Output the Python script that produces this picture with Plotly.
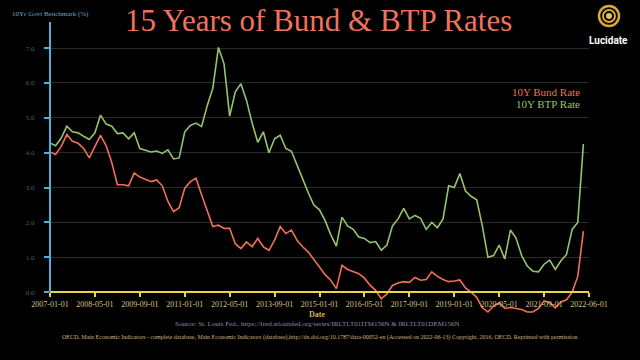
import plotly.graph_objects as go

# ---------------- data ----------------
tick_labels = ["2007-01-01", "2008-05-01", "2009-09-01", "2011-01-01", "2012-05-01",
               "2013-09-01", "2015-01-01", "2016-05-01", "2017-09-01", "2019-01-01",
               "2020-05-01", "2021-09-01", "2022-06-01"]

# sample positions along the time axis (period index, every 2 steps)
period_index = list(range(0, 192, 2))

bund_rate = [4.02, 3.95, 4.18, 4.52, 4.33, 4.27, 4.12, 3.85, 4.18, 4.50,
             4.20, 3.72, 3.08, 3.08, 3.05, 3.42, 3.30, 3.24, 3.17, 3.22,
             3.05, 2.60, 2.31, 2.42, 2.98, 3.17, 3.27, 2.79, 2.31, 1.88,
             1.92, 1.83, 1.83, 1.39, 1.25, 1.44, 1.30, 1.54, 1.30, 1.20,
             1.49, 1.88, 1.68, 1.78, 1.49, 1.30, 1.15, 0.95, 0.72, 0.50,
             0.34, 0.10, 0.77, 0.65, 0.58, 0.53, 0.40, 0.20, 0.05, -0.19,
             -0.05, 0.19, 0.26, 0.30, 0.28, 0.42, 0.34, 0.36, 0.58, 0.45,
             0.36, 0.30, 0.32, 0.35, 0.12, 0.00, -0.15, -0.45, -0.57, -0.40,
             -0.30, -0.47, -0.44, -0.47, -0.50, -0.57, -0.57, -0.47, -0.25, -0.30,
             -0.45, -0.28, -0.22, 0.00, 0.45, 1.75]

btp_rate = [4.28, 4.20, 4.42, 4.76, 4.60, 4.57, 4.47, 4.38, 4.57, 5.08,
            4.82, 4.76, 4.55, 4.57, 4.40, 4.57, 4.12, 4.08, 4.02, 4.05,
            3.98, 4.08, 3.82, 3.85, 4.60, 4.78, 4.85, 4.75, 5.35, 5.85,
            7.02, 6.55, 5.05, 5.75, 5.98, 5.50, 4.85, 4.30, 4.60, 4.00,
            4.40, 4.50, 4.12, 4.04, 3.62, 3.25, 2.85, 2.50, 2.36, 2.05,
            1.65, 1.32, 2.15, 1.90, 1.80, 1.58, 1.54, 1.42, 1.45, 1.20,
            1.35, 1.90, 2.10, 2.40, 2.10, 2.20, 2.12, 1.80, 2.00, 1.85,
            2.10, 3.05, 3.00, 3.40, 2.90, 2.75, 2.65, 1.90, 1.00, 1.05,
            1.35, 0.95, 1.78, 1.55, 1.05, 0.75, 0.60, 0.58, 0.80, 0.92,
            0.65, 0.90, 1.08, 1.80, 2.00, 4.25]

y_ticks = [0, 1, 2, 3, 4, 5, 6, 7]

# ---------------- layout helpers ----------------
W, H = 640, 360
L, R, T, B = 50, 51, 22, 40
Y_MIN, Y_MAX = -0.8, 7.75
X_MAX = 192


def px_x(x):
    return (x - L) / (W - L - R)


def px_y(y):
    return (H - B - y) / (H - T - B)


RED = "#f26f55"
GREEN = "#95c46f"
BLUE = "#4fb0e0"
YELLOW = "#e6d44a"
SERIF = "Liberation Serif, DejaVu Serif, serif"

fig = go.Figure()
fig.add_trace(go.Scatter(x=period_index, y=btp_rate, mode="lines",
                         line=dict(color=GREEN, width=1.6), name="10Y BTP Rate"))
fig.add_trace(go.Scatter(x=period_index, y=bund_rate, mode="lines",
                         line=dict(color=RED, width=1.6), name="10Y Bund Rate"))

tick_step = X_MAX // (len(tick_labels) - 1)
fig.update_xaxes(range=[0, X_MAX],
                 tickvals=[i * tick_step for i in range(len(tick_labels))],
                 ticktext=tick_labels,
                 anchor="free", position=(0 - Y_MIN) / (Y_MAX - Y_MIN),
                 showline=True, linecolor=YELLOW, linewidth=2,
                 ticks="outside", ticklen=4, tickwidth=2, tickcolor=YELLOW,
                 tickfont=dict(family=SERIF, size=8, color="#d6c385"),
                 showgrid=False, zeroline=False)
fig.update_yaxes(range=[Y_MIN, Y_MAX], tickvals=y_ticks,
                 ticktext=[f"{v:.1f}" for v in y_ticks],
                 ticks="outside", ticklen=5, tickwidth=2, tickcolor=BLUE,
                 ticklabelstandoff=8,
                 tickfont=dict(family=SERIF, size=7, color="#3f6080"),
                 showgrid=True, gridcolor="#2a2a2a", gridwidth=1,
                 showline=False, zeroline=False)

# y-axis spine from 0 upward
fig.add_shape(type="line", xref="paper", yref="y", x0=0, x1=0, y0=0, y1=Y_MAX,
              line=dict(color=BLUE, width=2))

# logo
for r, w in [(10, 2.5), (6, 2)]:
    fig.add_shape(type="circle", xref="paper", yref="paper",
                  x0=px_x(609 - r), x1=px_x(609 + r), y0=px_y(16 + r), y1=px_y(16 - r),
                  line=dict(color="#d9a83a", width=w))
fig.add_shape(type="circle", xref="paper", yref="paper",
              x0=px_x(606), x1=px_x(612), y0=px_y(19), y1=px_y(13),
              fillcolor="#e8bf55", line=dict(width=0))

ann = [
    dict(text="15 Years of Bund & BTP Rates", x=px_x(318), y=px_y(21),
         font=dict(family=SERIF, size=31, color="#ee735d"), xanchor="center"),
    dict(text="<b>Lucidate</b>", x=px_x(608), y=px_y(40),
         font=dict(family="Roboto, Liberation Sans, sans-serif", size=10, color="white"),
         xanchor="center"),
    dict(text="10Yr Govt Benchmark (%)", x=px_x(10), y=px_y(14),
         font=dict(family=SERIF, size=7, color="#6aa8cc"), xanchor="left"),
    dict(text="10Y Bund Rate", x=px_x(582), y=px_y(92),
         font=dict(family=SERIF, size=11, color=RED), xanchor="right"),
    dict(text="10Y BTP Rate", x=px_x(582), y=px_y(104),
         font=dict(family=SERIF, size=11, color=GREEN), xanchor="right"),
    dict(text="<b>Date</b>", x=px_x(317), y=px_y(314),
         font=dict(family=SERIF, size=8, color="#d4b840"), xanchor="center"),
    dict(text="Source: St. Louis Fed.. https://fred.stlouisfed.org/series/IRLTLT01ITM156N & IRLTLT01DEM156N",
         x=px_x(317), y=px_y(324),
         font=dict(family=SERIF, size=7, color="#8c8cae"), xanchor="center"),
    dict(text="OECD, Main Economic Indicators - complete database, Main Economic Indicators (database),"
              "http://dx.doi.org/10.1787/data-00052-en (Accessed on 2022-06-13) Copyright, 2016, OECD. "
              "Reprinted with permission",
         x=px_x(319), y=px_y(337),
         font=dict(family=SERIF, size=6, color="#cbb67a"), xanchor="center"),
]
for a in ann:
    a.update(xref="paper", yref="paper", showarrow=False, yanchor="middle")
    fig.add_annotation(**a)

fig.update_layout(width=W, height=H, margin=dict(l=L, r=R, t=T, b=B),
                  paper_bgcolor="black", plot_bgcolor="black", showlegend=False)

fig.write_html("out.html", config={"displayModeBar": False},
               post_script="document.body.style.margin='0px';"
                           "document.body.style.background='black';")
